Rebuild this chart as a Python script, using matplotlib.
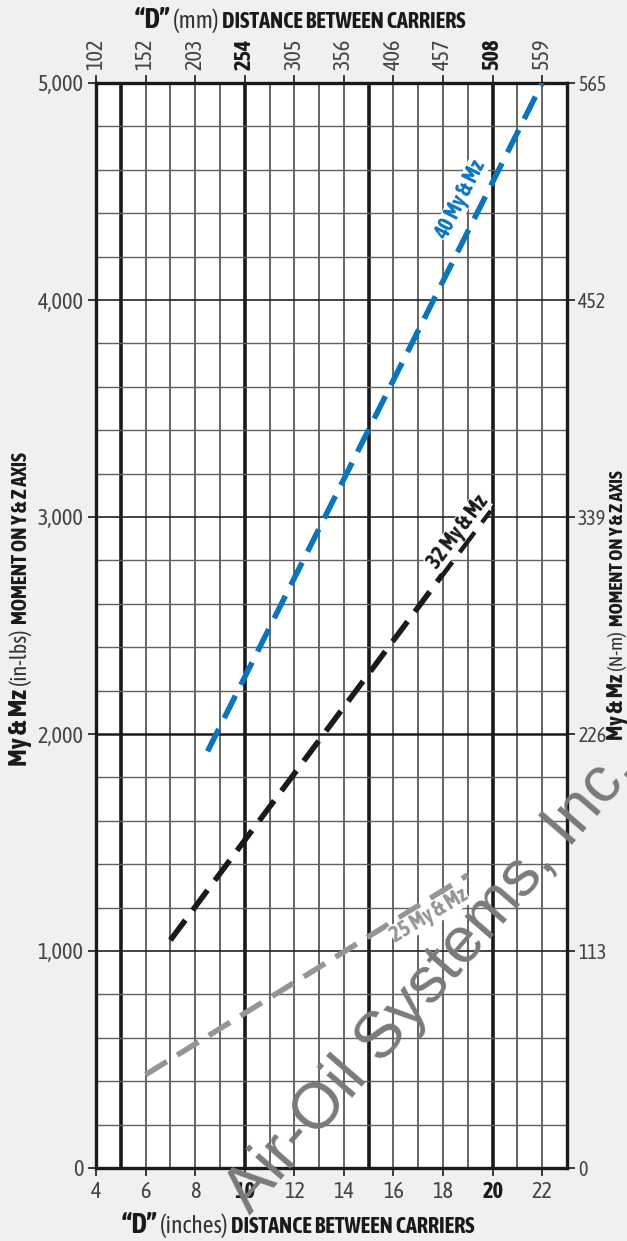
import numpy as np
import matplotlib
matplotlib.use('Agg')
import matplotlib.pyplot as plt
from matplotlib import font_manager as fm

# condensed face with a bold weight, if the machine has one
cond_bold = sorted({f.name for f in fm.fontManager.ttflist
                    if ('Narrow' in f.name or 'Condensed' in f.name or f.stretch == 'condensed')
                    and (f.weight in ('bold', 700) or str(f.weight) == '700')})
plt.rcParams['font.family'] = cond_bold[:1] + ['DejaVu Sans']
plt.rcParams['font.stretch'] = 'condensed'

# ---------------- data ----------------
x_ticks_in = [4, 6, 8, 10, 12, 14, 16, 18, 20, 22]
x_ticks_mm = ['102', '152', '203', '254', '305', '356', '406', '457', '508', '559']
y_ticks_lbs = [0, 1000, 2000, 3000, 4000, 5000]
y_labels_lbs = ['0', '1,000', '2,000', '3,000', '4,000', '5,000']
y_labels_nm = ['0', '113', '226', '339', '452', '565']

size40_x = [8.5, 22.0]
size40_y = [1920, 5000]
size32_x = [7.0, 19.9]
size32_y = [1050, 3030]
size25_x = [6.0, 19.0]
size25_y = [430, 1350]

BLUE = '#0a74bd'
BLACK = '#1a1a1a'
GRAY = '#959595'
BG = '#f0f0f0'

W, H = 627, 1241
fig = plt.figure(figsize=(W / 100, H / 100), dpi=100, facecolor=BG)
ax = fig.add_axes([96 / W, 1 - 1168 / H, (567 - 96) / W, (1168 - 83) / H])
ax.set_facecolor('white')
ax.set_xlim(4, 23)
ax.set_ylim(0, 5000)

# grid
for xv in range(5, 23):
    lw = 2.6 if xv % 5 == 0 else 1.1
    ax.axvline(xv, color='#1a1a1a' if xv % 5 == 0 else '#3a3a3a', lw=lw, zorder=1)
for yv in range(200, 5000, 200):
    if yv == 2000:
        lw, c = 1.8, '#1a1a1a'
    elif yv % 1000 == 0:
        lw, c = 1.2, '#222222'
    else:
        lw, c = 1.0, '#606060'
    ax.axhline(yv, color=c, lw=lw, zorder=1)

for s in ax.spines.values():
    s.set_linewidth(2.4)
    s.set_color('#1a1a1a')

# ticks
ax.set_xticks(x_ticks_in)
ax.set_xticklabels([str(v) for v in x_ticks_in])
ax.set_yticks(y_ticks_lbs)
ax.set_yticklabels(y_labels_lbs)
ax.tick_params(axis='both', direction='out', length=6, width=1.2, color='#1a1a1a',
               labelsize=16, labelcolor='#444444', pad=3)
for lbl in ax.get_xticklabels():
    if lbl.get_text() in ('10', '20'):
        lbl.set_fontweight('bold')
        lbl.set_color('#1a1a1a')

axt = ax.twiny()
axt.set_xlim(ax.get_xlim())
axt.set_xticks(x_ticks_in)
axt.set_xticklabels(x_ticks_mm, rotation=90)
axt.tick_params(axis='x', direction='out', length=6, width=1.2, color='#1a1a1a',
                labelsize=16, labelcolor='#444444', pad=3)
for lbl in axt.get_xticklabels():
    if lbl.get_text() in ('254', '508'):
        lbl.set_fontweight('bold')
        lbl.set_color('#1a1a1a')
for s in axt.spines.values():
    s.set_visible(False)

axr = ax.twinx()
axr.set_ylim(ax.get_ylim())
axr.set_yticks(y_ticks_lbs)
axr.set_yticklabels(y_labels_nm)
axr.tick_params(axis='y', direction='out', length=6, width=1.2, color='#1a1a1a',
                labelsize=14.5, labelcolor='#444444', pad=2)
for s in axr.spines.values():
    s.set_visible(False)

# lines
ax.plot(size40_x, size40_y, color=BLUE, lw=4, dashes=(4.5, 2.2), zorder=3)
ax.plot(size32_x, size32_y, color=BLACK, lw=4, dashes=(4.5, 2.2), zorder=3)
ax.plot(size25_x, size25_y, color=GRAY, lw=4, dashes=(4.5, 2.2), zorder=3)

lab = dict(fontsize=15.5, fontweight='bold', ha='center', va='center', zorder=4,
           rotation_mode='anchor')
ax.text(18.7, 4460, '40 My & Mz', color=BLUE, rotation=63,
        bbox=dict(fc='white', ec='none', pad=0.2), **lab)
ax.text(18.6, 2930, '32 My & Mz', color=BLACK, rotation=53,
        bbox=dict(fc='white', ec='none', pad=0.2), **lab)
ax.text(17.45, 1165, '25 My & Mz', color=GRAY, rotation=31,
        bbox=dict(fc='white', ec='none', pad=0.2), **lab)

# watermark
fig.text(250 / W, 1 - 1215 / H, 'Air-Oil Systems, Inc.', fontsize=47, color='#7a7a7a',
         fontweight='light', rotation=49, rotation_mode='anchor', ha='left', va='baseline',
         family=['Liberation Sans', 'DejaVu Sans'], zorder=10)

# mixed-weight titles
renderer = fig.canvas.get_renderer()


def mixed(pieces, x, y, rotation=0):
    arts = []
    for txt, size, weight in pieces:
        t = fig.text(0, 0, txt, transform=None, fontsize=size, fontweight=weight,
                     color='#1a1a1a' if weight == 'bold' else '#333333',
                     rotation=rotation, rotation_mode='anchor', ha='left', va='baseline')
        arts.append(t)
    lens = []
    for t in arts:
        bb = t.get_window_extent(renderer)
        lens.append(bb.width if rotation == 0 else bb.height)
    total = sum(lens)
    pos = -total / 2
    for t, L in zip(arts, lens):
        if rotation == 0:
            t.set_position((x + pos, y))
        else:
            t.set_position((x, y + pos))
        pos += L


mixed([('\u201cD\u201d ', 20, 'bold'), ('(mm) ', 17, 'normal'),
       ('DISTANCE BETWEEN CARRIERS', 16, 'bold')], 300, H - 28)
mixed([('\u201cD\u201d ', 20, 'bold'), ('(inches) ', 17, 'normal'),
       ('DISTANCE BETWEEN CARRIERS', 16, 'bold')], 298, H - 1233)
mixed([('My & Mz ', 19, 'bold'), ('(in-lbs)  ', 16, 'normal'),
       ('MOMENT ON Y & Z AXIS', 15, 'bold')], 27, H - 609, rotation=90)
mixed([('My & Mz ', 16.5, 'bold'), ('(N-m)  ', 14, 'normal'),
       ('MOMENT ON Y & Z AXIS', 13.5, 'bold')], 623, H - 605, rotation=90)

fig.savefig('out.png', dpi=100, facecolor=BG)
